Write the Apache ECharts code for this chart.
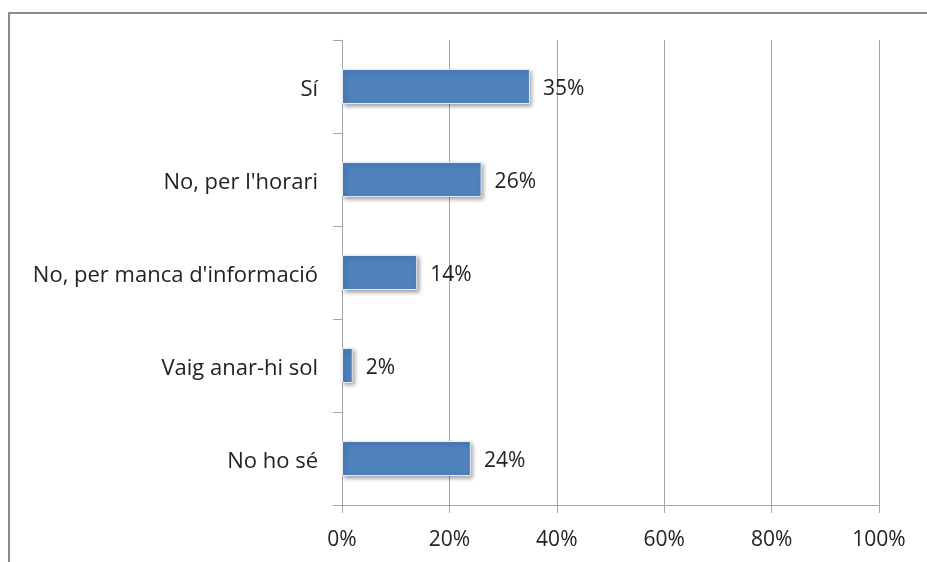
<!DOCTYPE html>
<html>
<head>
<meta charset="utf-8">
<script src="https://cdn.jsdelivr.net/npm/echarts@6/dist/echarts.min.js"></script>
<style>
  html, body { margin: 0; padding: 0; background: #fff; }
  #chart { width: 927px; height: 562px; }
</style>
</head>
<body>
<div id="chart"></div>
<script>
// Survey answers and their shares (%)
const categories = ['Sí', "No, per l'horari", "No, per manca d'informació", 'Vaig anar-hi sol', 'No ho sé'];
const values = [35, 26, 14, 2, 24];
const xTicks = { min: 0, max: 100, interval: 20 };

const font = '"Open Sans", "Liberation Sans", Arial, sans-serif';
const gridColor = '#a6a6a6';
const textColor = '#222';

const chart = echarts.init(document.getElementById('chart'));
chart.setOption({
  animation: false,
  backgroundColor: '#fff',
  graphic: [{
    type: 'rect',
    shape: { x: 9, y: 13, width: 940, height: 570 },
    style: { fill: 'none', stroke: '#8c8c8c', lineWidth: 2 },
    silent: true
  }],
  grid: { left: 342, right: 48, top: 40, bottom: 57 },
  xAxis: {
    type: 'value',
    min: xTicks.min,
    max: xTicks.max,
    interval: xTicks.interval,
    axisLine: { show: true, lineStyle: { color: gridColor, width: 1 } },
    axisTick: { show: true, length: 8, lineStyle: { color: gridColor } },
    splitLine: { show: true, lineStyle: { color: gridColor, width: 1 } },
    axisLabel: {
      formatter: '{value}%',
      color: textColor,
      fontFamily: font,
      fontSize: 21,
      margin: 25
    }
  },
  yAxis: {
    type: 'category',
    data: categories,
    inverse: true,
    axisLine: { show: true, lineStyle: { color: gridColor, width: 1 } },
    axisTick: { show: true, length: 9, alignWithLabel: false, lineStyle: { color: gridColor } },
    axisLabel: {
      margin: 24,
      formatter: (v) => '{t|' + v + '}',
      rich: {
        t: { color: textColor, fontFamily: font, fontSize: 22, padding: [6, 0, 0, 0] }
      }
    }
  },
  series: [{
    type: 'bar',
    data: values,
    barWidth: 35,
    itemStyle: {
      color: '#4f81bd',
      borderColor: '#e4ecf5',
      borderWidth: 1,
      shadowColor: 'rgba(0,0,0,0.35)',
      shadowBlur: 4,
      shadowOffsetX: 2,
      shadowOffsetY: 2
    },
    label: {
      show: true,
      position: 'right',
      distance: 13,
      formatter: '{t|{c}%}',
      rich: {
        t: { color: textColor, fontFamily: font, fontSize: 21, padding: [6, 0, 0, 0] }
      }
    }
  }]
});
</script>
</body>
</html>
